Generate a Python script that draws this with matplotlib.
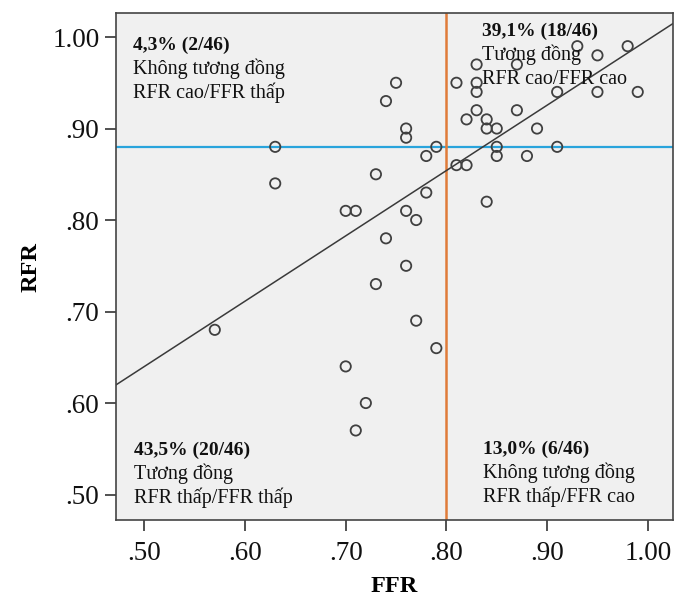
import numpy as np
import matplotlib.pyplot as plt

# FFR / RFR pairs
ffr = [0.75, 0.74, 0.76, 0.76, 0.63, 0.79, 0.78, 0.63, 0.73, 0.70, 0.71, 0.76,
       0.77, 0.78, 0.74, 0.76, 0.73, 0.57, 0.77, 0.79, 0.70, 0.72, 0.71,
       0.81, 0.83, 0.83, 0.83, 0.83, 0.82, 0.84, 0.84, 0.85, 0.85, 0.85, 0.81,
       0.82, 0.84, 0.87, 0.87, 0.89, 0.88, 0.91, 0.91, 0.93, 0.95, 0.95, 0.98, 0.99]
rfr = [0.95, 0.93, 0.90, 0.89, 0.88, 0.88, 0.87, 0.84, 0.85, 0.81, 0.81, 0.81,
       0.80, 0.83, 0.78, 0.75, 0.73, 0.68, 0.69, 0.66, 0.64, 0.60, 0.57,
       0.95, 0.97, 0.95, 0.94, 0.92, 0.91, 0.91, 0.90, 0.90, 0.88, 0.87, 0.86,
       0.86, 0.82, 0.97, 0.92, 0.90, 0.87, 0.88, 0.94, 0.99, 0.98, 0.94, 0.99, 0.94]

ffr_cut = 0.80
rfr_cut = 0.88

ticks = [0.50, 0.60, 0.70, 0.80, 0.90, 1.00]
tick_labels = ['.50', '.60', '.70', '.80', '.90', '1.00']

quadrants = [
    # (x, y, bold line, line 2, line 3)
    (0.031, 0.928, '4,3% (2/46)', 'Không tương đồng', 'RFR cao/FFR thấp'),
    (0.657, 0.955, '39,1% (18/46)', 'Tương đồng', 'RFR cao/FFR cao'),
    (0.033, 0.128, '43,5% (20/46)', 'Tương đồng', 'RFR thấp/FFR thấp'),
    (0.658, 0.130, '13,0% (6/46)', 'Không tương đồng', 'RFR thấp/FFR cao'),
]

plt.rcParams['font.family'] = ['Liberation Serif', 'DejaVu Serif']

fig = plt.figure(figsize=(6.75, 6.02), dpi=100)
ax = fig.add_axes([0.172, 0.136, 0.825, 0.842])
ax.set_facecolor('#f0f0f0')

ax.set_xlim(0.472, 1.025)
ax.set_ylim(0.472, 1.026)

# fit line
k, b = np.polyfit(ffr, rfr, 1)
xx = np.array([0.472, 1.025])
ax.plot(xx, k * xx + b, color='#3a3a3a', lw=1.1, zorder=2)

ax.axhline(rfr_cut, color='#29a4dc', lw=1.6, zorder=1)
ax.axvline(ffr_cut, color='#e07b39', lw=1.8, zorder=1)

ax.scatter(ffr, rfr, s=55, facecolors='none', edgecolors='#404040',
           linewidths=1.3, zorder=3)

for x, y, l1, l2, l3 in quadrants:
    ax.text(x, y, l1, transform=ax.transAxes, fontsize=14, fontweight='bold',
            va='baseline', color='#111111')
    ax.text(x, y - 0.047, l2, transform=ax.transAxes, fontsize=14.5,
            va='baseline', color='#111111')
    ax.text(x, y - 0.095, l3, transform=ax.transAxes, fontsize=14.5,
            va='baseline', color='#111111')

ax.set_xticks(ticks)
ax.set_xticklabels(tick_labels)
ax.set_yticks(ticks)
ax.set_yticklabels(tick_labels)
ax.tick_params(direction='out', length=8, width=1.2, labelsize=19.5,
               color='#333333', labelcolor='#111111', pad=4)
ax.tick_params(axis='x', pad=7)

for s in ax.spines.values():
    s.set_color('#444444')
    s.set_linewidth(1.2)

ax.set_xlabel('FFR', fontsize=17.5, fontweight='bold', labelpad=7)
ax.set_ylabel('RFR', fontsize=17.5, fontweight='bold', labelpad=8)

plt.savefig('out.png', dpi=100)
